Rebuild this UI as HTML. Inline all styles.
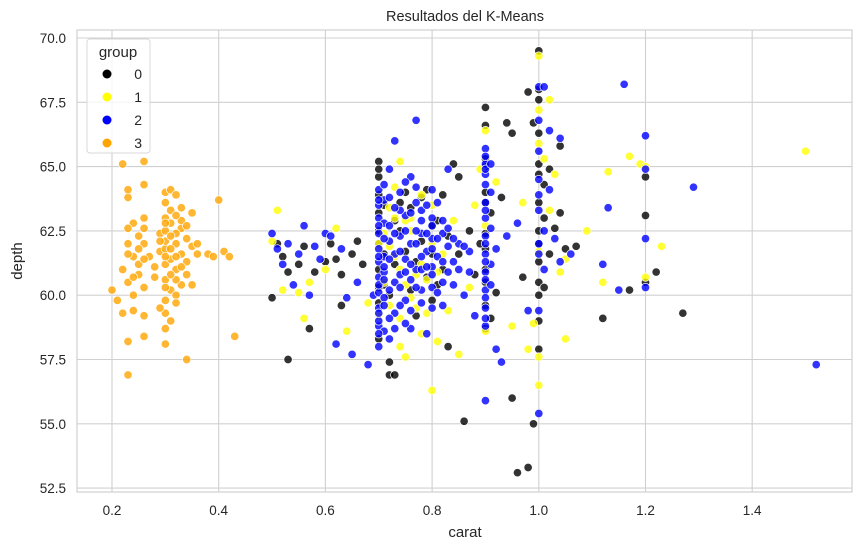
<!DOCTYPE html>
<html><head><meta charset="utf-8"><style>
body{margin:0;background:#fff;}
svg text{font-family:"Liberation Sans","DejaVu Sans",sans-serif;fill:#262626;}
</style></head><body>
<svg id="chart" width="862" height="551" xmlns="http://www.w3.org/2000/svg">
<text x="465" y="21" font-size="14.5" text-anchor="middle">Resultados del K-Means</text>
<rect x="77" y="30" width="775" height="462" fill="none" stroke="#d0d0d0" stroke-width="1.2"/>
<g id="grid"></g><g id="ticks"></g><g id="points"></g>
<text x="465" y="537" font-size="15" text-anchor="middle">carat</text>
<text x="22" y="261" font-size="15" text-anchor="middle" transform="rotate(-90 22 261)">depth</text>
<g id="legend">
<rect x="87" y="39" width="63" height="114" rx="3" fill="#fff" fill-opacity="0.8" stroke="#d8d8d8"/>
<text x="118" y="57" font-size="15" text-anchor="middle">group</text>
</g>
</svg>
<script>
const xTicks=[0.2,0.4,0.6,0.8,1.0,1.2,1.4];
const yTicks=[52.5,55.0,57.5,60.0,62.5,65.0,67.5,70.0];
const groups=["0","1","2","3"];
const colors=["#000000","#ffff00","#0000ff","#ffa500"];
const g3=[[0.2,60.2],[0.21,59.8],[0.22,59.3],[0.22,61.0],[0.23,62.0],[0.23,60.5],[0.23,58.2],[0.23,56.9],[0.23,63.8],[0.23,64.1],[0.22,65.1],[0.24,62.8],[0.24,61.5],[0.24,60.0],[0.24,59.4],[0.25,61.2],[0.25,62.3],[0.25,60.8],[0.26,62.0],[0.26,63.0],[0.26,65.2],[0.26,64.3],[0.26,59.2],[0.26,58.4],[0.26,60.3],[0.27,61.5],[0.28,60.7],[0.29,62.4],[0.29,61.7],[0.3,63.0],[0.3,62.5],[0.3,61.8],[0.3,61.2],[0.3,60.6],[0.3,62.1],[0.3,63.6],[0.3,64.0],[0.3,59.8],[0.3,59.3],[0.3,58.7],[0.3,58.1],[0.31,62.8],[0.31,61.4],[0.31,60.2],[0.31,63.3],[0.31,64.1],[0.32,62.0],[0.32,61.0],[0.32,60.0],[0.32,63.9],[0.32,59.7],[0.33,62.6],[0.33,61.6],[0.33,60.4],[0.33,63.4],[0.34,62.2],[0.34,61.3],[0.34,57.5],[0.34,60.8],[0.35,61.9],[0.35,60.4],[0.36,61.6],[0.36,62.0],[0.38,61.6],[0.39,61.5],[0.4,63.7],[0.41,61.7],[0.42,61.5],[0.43,58.4],[0.29,59.5],[0.28,61.1],[0.31,59.0],[0.35,63.2],[0.3,62.8],[0.32,62.4],[0.31,61.8],[0.33,62.9],[0.3,61.5],[0.32,60.6],[0.23,61.6],[0.23,62.6],[0.24,60.7],[0.25,61.8],[0.26,61.4],[0.26,62.6],[0.29,62.1],[0.3,60.3],[0.31,60.8],[0.31,62.3],[0.32,61.5],[0.32,63.1],[0.33,61.1],[0.34,62.7]];
const g0=[[0.5,59.9],[0.51,62.0],[0.52,61.5],[0.53,57.5],[0.53,60.9],[0.55,61.2],[0.56,61.9],[0.57,58.7],[0.58,60.9],[0.6,61.3],[0.61,62.0],[0.62,61.4],[0.63,60.8],[0.63,59.6],[0.65,61.6],[0.66,62.1],[0.67,61.2],[0.7,65.2],[0.7,64.6],[0.7,63.9],[0.7,62.5],[0.7,61.0],[0.7,59.7],[0.7,58.3],[0.71,60.4],[0.72,57.4],[0.72,56.9],[0.73,56.9],[0.73,62.9],[0.74,63.6],[0.75,64.0],[0.76,60.2],[0.77,59.2],[0.78,63.8],[0.79,64.1],[0.8,62.7],[0.8,59.8],[0.81,60.4],[0.82,63.9],[0.83,58.0],[0.84,65.1],[0.85,64.6],[0.86,55.1],[0.87,62.5],[0.88,60.8],[0.9,67.3],[0.9,66.6],[0.9,64.0],[0.9,61.0],[0.9,59.6],[0.9,58.7],[0.91,63.2],[0.92,60.1],[0.94,66.7],[0.95,56.0],[0.95,66.3],[0.96,53.1],[0.97,60.7],[0.98,53.3],[0.98,67.9],[0.99,55.0],[1.0,69.5],[1.0,68.0],[1.0,67.6],[1.0,66.3],[1.0,64.7],[1.0,63.6],[1.0,62.5],[1.0,61.3],[1.0,60.5],[1.0,59.0],[1.0,57.9],[1.01,64.3],[1.01,60.3],[1.02,61.6],[1.03,62.6],[1.04,65.8],[1.04,63.2],[1.05,61.8],[1.07,61.9],[1.12,59.1],[1.17,60.2],[1.2,64.6],[1.2,63.1],[1.2,60.5],[1.22,60.9],[1.27,59.3],[0.99,66.7],[0.7,63.2],[0.7,60.3],[0.9,62.4],[0.9,65.3],[0.7,64.9],[0.7,62.0],[0.71,63.5],[0.71,61.6],[0.72,60.0],[0.73,61.2],[0.74,62.5],[0.75,61.7],[0.76,63.4],[0.77,61.3],[0.78,62.1],[0.79,60.7],[0.8,61.6],[0.81,62.9],[0.82,61.0],[0.83,62.3],[0.85,61.6],[0.9,63.6],[0.9,60.5],[0.9,61.8],[0.91,59.1],[0.9,65.0],[1.0,62.0],[1.0,65.1],[1.0,60.0],[1.01,63.0],[1.02,64.9],[0.93,63.8],[0.89,62.0]];
const g1=[[0.5,62.1],[0.51,63.3],[0.52,60.2],[0.55,60.1],[0.56,59.1],[0.57,60.5],[0.6,61.0],[0.62,62.6],[0.64,58.6],[0.68,59.7],[0.7,62.0],[0.71,60.5],[0.72,61.9],[0.73,64.2],[0.74,65.2],[0.74,58.0],[0.75,57.6],[0.76,63.0],[0.77,59.5],[0.78,61.2],[0.78,58.5],[0.79,60.6],[0.8,56.3],[0.8,63.5],[0.81,58.2],[0.82,61.6],[0.84,62.9],[0.85,57.7],[0.87,60.3],[0.88,63.5],[0.89,64.9],[0.9,66.4],[0.9,62.7],[0.9,58.6],[0.92,64.4],[0.95,58.8],[0.97,63.6],[0.98,57.9],[0.99,58.9],[1.0,69.3],[1.0,67.2],[1.0,65.9],[1.0,61.7],[1.0,57.6],[1.0,56.5],[1.01,65.3],[1.02,67.6],[1.02,63.3],[1.03,64.7],[1.04,60.9],[1.05,58.3],[1.05,61.4],[1.09,62.5],[1.12,60.5],[1.13,64.8],[1.17,65.4],[1.19,65.1],[1.2,65.0],[1.2,60.7],[1.23,61.9],[1.5,65.6],[0.76,62.5],[0.74,61.0],[0.72,63.4],[0.7,59.2],[0.75,60.4],[0.71,62.4],[0.72,59.6],[0.73,63.0],[0.74,59.1],[0.75,62.9],[0.77,60.8],[0.78,63.9],[0.79,59.3],[0.8,62.0],[0.81,60.9],[0.83,59.4],[0.73,61.5],[0.76,59.9]];
const g2=[[0.5,62.4],[0.51,61.8],[0.52,61.2],[0.53,62.0],[0.54,60.4],[0.55,61.6],[0.56,62.7],[0.57,60.0],[0.58,61.9],[0.59,61.4],[0.6,62.4],[0.61,62.3],[0.62,58.1],[0.63,61.8],[0.64,59.9],[0.65,57.7],[0.66,60.5],[0.68,57.3],[0.69,60.0],[0.7,64.1],[0.7,63.5],[0.7,63.0],[0.7,62.4],[0.7,61.8],[0.7,61.3],[0.7,60.7],[0.7,60.1],[0.7,59.5],[0.7,58.8],[0.7,58.0],[0.7,59.0],[0.71,63.7],[0.71,62.8],[0.71,61.5],[0.71,60.9],[0.71,59.9],[0.71,58.6],[0.72,62.1],[0.72,60.2],[0.73,66.0],[0.73,61.6],[0.73,59.3],[0.74,62.3],[0.74,60.8],[0.75,63.1],[0.75,61.4],[0.75,59.8],[0.76,62.0],[0.76,58.7],[0.77,66.8],[0.77,61.0],[0.77,63.6],[0.78,62.4],[0.78,60.2],[0.79,61.7],[0.79,58.5],[0.8,62.2],[0.8,61.1],[0.8,60.3],[0.8,63.0],[0.81,61.5],[0.82,62.4],[0.82,59.6],[0.83,64.9],[0.84,61.3],[0.85,62.0],[0.86,60.0],[0.87,61.7],[0.88,59.2],[0.9,65.7],[0.9,65.1],[0.9,64.3],[0.9,63.6],[0.9,63.0],[0.9,62.3],[0.9,61.6],[0.9,60.9],[0.9,60.2],[0.9,59.5],[0.9,55.9],[0.91,62.6],[0.91,61.2],[0.92,57.9],[0.93,57.4],[0.94,62.3],[0.96,62.8],[0.98,59.4],[1.0,68.1],[1.0,66.8],[1.0,64.5],[1.0,63.3],[1.0,62.0],[1.0,59.4],[1.0,55.4],[1.01,68.1],[1.02,64.1],[1.03,62.2],[1.04,66.1],[1.04,61.3],[1.06,61.6],[1.13,63.4],[1.15,60.2],[1.12,61.2],[1.16,68.2],[1.2,66.2],[1.2,64.9],[1.2,62.2],[1.2,60.3],[1.29,64.2],[1.52,57.3],[0.74,63.3],[0.76,64.6],[0.72,64.9],[0.78,63.3],[0.8,64.1],[0.84,60.4],[0.72,62.7],[0.73,60.5],[0.74,59.6],[0.76,61.2],[0.77,62.5],[0.78,61.5],[0.8,60.8],[0.82,62.9],[0.83,61.9],[0.71,61.1],[0.9,58.8],[0.9,64.7],
[0.7,62.7],[0.7,61.5],[0.7,60.4],[0.7,59.3],[0.7,58.5],[0.7,63.7],[0.71,62.2],[0.71,60.6],[0.71,59.6],[0.71,64.3],[0.72,61.4],[0.72,63.8],[0.72,59.1],[0.72,58.3],[0.73,62.4],[0.73,63.4],[0.73,58.7],[0.74,61.7],[0.74,64.0],[0.74,60.3],[0.75,62.5],[0.75,60.9],[0.75,64.4],[0.75,58.9],[0.76,63.2],[0.76,60.6],[0.76,59.4],[0.77,62.0],[0.77,60.3],[0.77,64.2],[0.78,61.0],[0.78,62.9],[0.78,59.7],[0.79,62.4],[0.79,61.1],[0.79,63.5],[0.8,61.8],[0.8,59.5],[0.8,62.7],[0.81,62.2],[0.81,60.1],[0.81,63.6],[0.82,61.3],[0.82,60.5],[0.83,62.6],[0.83,60.9],[0.84,62.2],[0.85,61.0],[0.86,61.9],[0.87,60.9],[0.9,64.9],[0.9,63.3],[0.9,62.0],[0.9,61.3],[0.9,60.6],[0.9,59.9],[0.9,59.1],[0.9,65.4],[0.91,64.0],[0.91,60.4],[0.91,65.1],[0.92,61.8],[1.0,61.6],[1.0,63.9],[1.0,65.6],[1.01,62.5],[1.01,61.0],[1.02,66.4]];
const series=[g0,g1,g2,g3];
const NS="http://www.w3.org/2000/svg";
const X0=77,X1=852,Y0=30,Y1=492;
function sx(v){return 112+(v-0.2)*533.5;}
function sy(v){return 38+(70-v)*25.72;}
function mk(t,a,p){const e=document.createElementNS(NS,t);for(const k in a)e.setAttribute(k,a[k]);p.appendChild(e);return e;}
const grid=document.getElementById('grid'),ticks=document.getElementById('ticks'),pts=document.getElementById('points'),leg=document.getElementById('legend');
xTicks.forEach(v=>{const x=sx(v);
const l=mk('line',{x1:x,x2:x,y1:Y0,y2:Y1,stroke:'#d0d0d0','stroke-width':1.1},grid);


const t=mk('text',{x:x,y:515,'font-size':13.5,'text-anchor':'middle'},ticks);t.textContent=v.toFixed(1);

});
yTicks.forEach(v=>{const y=sy(v);
const l=mk('line',{x1:X0,x2:X1,y1:y,y2:y,stroke:'#d0d0d0','stroke-width':1.1},grid);


const t=mk('text',{x:66,y:y+5,'font-size':13.5,'text-anchor':'end'},ticks);t.textContent=v.toFixed(1);

});
[3,0,1,2].forEach(gi=>{series[gi].forEach(p=>{
const c=mk('circle',{cx:sx(p[0]),cy:sy(p[1]),r:4.2,fill:colors[gi],'fill-opacity':0.8,stroke:'#fff','stroke-width':0.7},pts);

});});
groups.forEach((g,i)=>{const y=74+i*23;
const c=mk('circle',{cx:107,cy:y,r:4.5,fill:colors[i]},leg);


const t=mk('text',{x:142,y:y+5,'font-size':14,'text-anchor':'end'},leg);t.textContent=g;

});
</script>
</body></html>
